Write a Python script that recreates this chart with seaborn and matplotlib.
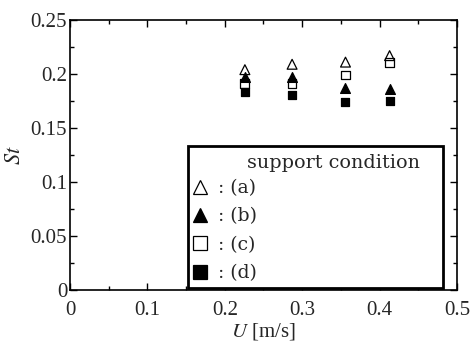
import numpy as np
import pandas as pd
import seaborn as sns
import matplotlib.pyplot as plt
from matplotlib.lines import Line2D
from matplotlib.patches import Rectangle
from matplotlib.ticker import MultipleLocator

# flow speed U [m/s] and Strouhal number St for each support condition
speed = [0.226, 0.287, 0.356, 0.413]
st_a = [0.204, 0.209, 0.211, 0.217]
st_b = [0.197, 0.197, 0.187, 0.186]
st_c = [0.191, 0.191, 0.199, 0.211]
st_d = [0.183, 0.181, 0.174, 0.175]
conditions = ["(a)", "(b)", "(c)", "(d)"]

df = pd.DataFrame({
    "U": speed * 4,
    "St": st_a + st_b + st_c + st_d,
    "cond": [c for c in conditions for _ in speed],
})

sns.set_style("ticks")
plt.rcParams['font.family'] = ['Liberation Serif', 'DejaVu Serif']
plt.rcParams['mathtext.fontset'] = 'stix'

fig = plt.figure(figsize=(4.73, 3.54), dpi=100)
ax = fig.add_axes([0.148, 0.181, 0.818, 0.7625])

styles = {"(a)": ("^", "none"), "(b)": ("^", "black"),
          "(c)": ("s", "none"), "(d)": ("s", "black")}
sizes = {"^": 50, "s": 40}
for cond in conditions:
    m, fc = styles[cond]
    sns.scatterplot(data=df[df["cond"] == cond], x="U", y="St", ax=ax,
                    marker=m, s=sizes[m], facecolor=fc, edgecolor="black",
                    linewidth=0.9, zorder=3, legend=False)

ax.set_xlim(0, 0.5)
ax.set_ylim(0, 0.25)
ax.set_xticks(np.arange(0, 0.51, 0.1))
ax.set_xticklabels(["0", "0.1", "0.2", "0.3", "0.4", "0.5"])
ax.set_yticks(np.arange(0, 0.251, 0.05))
ax.set_yticklabels(["0", "0.05", "0.1", "0.15", "0.2", "0.25"])
ax.xaxis.set_minor_locator(MultipleLocator(0.05))
ax.yaxis.set_minor_locator(MultipleLocator(0.025))
ax.tick_params(which="both", direction="in", top=True, right=True,
               labelsize=15, width=1, color="black", pad=2)
ax.tick_params(axis="x", which="major", pad=8)
ax.tick_params(which="major", length=5)
ax.tick_params(which="minor", length=3)
for sp in ax.spines.values():
    sp.set_linewidth(1.2)
    sp.set_color("black")

ax.set_xlabel(r"$U$ [m/s]", fontsize=15, labelpad=1)
ax.set_ylabel(r"$St$", fontsize=16, labelpad=4)

# legend box
ax.add_patch(Rectangle((0.305, 0.007), 0.659, 0.526, transform=ax.transAxes,
                       facecolor="white", edgecolor="black", linewidth=2,
                       zorder=5, clip_on=False))
ax.text(0.457, 0.47, "support condition", transform=ax.transAxes,
        fontsize=13.8, family="DejaVu Serif", va="center", ha="left", zorder=6)
handles = [Line2D([], [], ls="none", marker=styles[c][0], markersize=10,
                  markerfacecolor=styles[c][1], markeredgecolor="black",
                  markeredgewidth=0.9) for c in conditions]
leg = ax.legend(handles, [": " + c for c in conditions], loc="upper left",
                bbox_to_anchor=(0.31, 0.41), frameon=False,
                prop={"family": "DejaVu Serif", "size": 13.5},
                handlelength=1.1, handletextpad=0.4, labelspacing=0.55,
                borderaxespad=0, borderpad=0)
leg.set_zorder(7)

fig.savefig("out.png", dpi=100)
